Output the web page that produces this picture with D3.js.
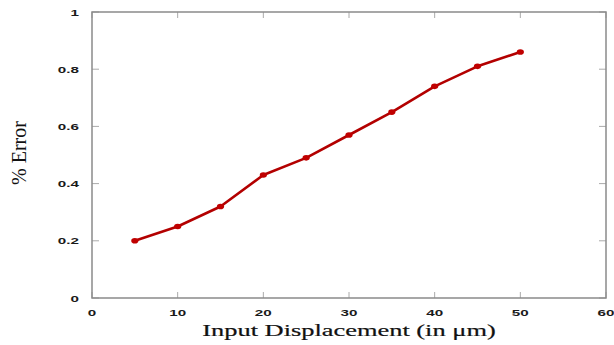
<!DOCTYPE html>
<html><head><meta charset="utf-8">
<script src="https://cdn.jsdelivr.net/npm/d3@7"></script>
<style>body{margin:0;background:#fff}</style>
</head><body>
<svg id="c" width="614" height="345"></svg>
<script>
const xValues = [5,10,15,20,25,30,35,40,45,50];
const errorValues = [0.20,0.25,0.32,0.43,0.49,0.57,0.65,0.74,0.81,0.86];
const xTicks = [0,10,20,30,40,50,60];
const yTicks = [0,0.2,0.4,0.6,0.8,1];
const xLabel = "Input Displacement (in \u03bcm)";
const yLabel = "% Error";

const svg = d3.select("#c");
const L=92,R=606,T=12,B=298;
const x = d3.scaleLinear().domain([0,60]).range([L,R]);
const y = d3.scaleLinear().domain([0,1]).range([B,T]);
function stretchText(sel, factor){
  sel.each(function(){
    const w=this.getComputedTextLength();
    d3.select(this).attr("textLength",w*factor).attr("lengthAdjust","spacingAndGlyphs");
  });
}
const tickCol="#aaa";
const g=svg.append("g");
xTicks.forEach(t=>{
  g.append("line").attr("x1",x(t)).attr("x2",x(t)).attr("y1",B).attr("y2",B-6).attr("stroke",tickCol);
  g.append("line").attr("x1",x(t)).attr("x2",x(t)).attr("y1",T).attr("y2",T+6).attr("stroke",tickCol);
});
yTicks.forEach(t=>{
  g.append("line").attr("x1",L).attr("x2",L+7).attr("y1",y(t)).attr("y2",y(t)).attr("stroke",tickCol);
  g.append("line").attr("x1",R).attr("x2",R-7).attr("y1",y(t)).attr("y2",y(t)).attr("stroke",tickCol);
});
svg.append("rect").attr("x",L).attr("y",T).attr("width",R-L).attr("height",B-T)
  .attr("fill","none").attr("stroke","#8a8a8a").attr("stroke-width",1.5);

const fnt="'Liberation Sans', Arial, sans-serif";
svg.append("g").selectAll("text").data(xTicks).join("text")
  .attr("x",d=>x(d)).attr("y",316).attr("text-anchor","middle")
  .attr("font-family",fnt).attr("font-weight","bold").attr("font-size",9.5).attr("fill","#1a1a1a")
  .text(d=>d3.format("~g")(d)).call(stretchText,1.6);
svg.append("g").selectAll("text").data(yTicks).join("text")
  .attr("x",79).attr("y",d=>y(d)+3.5).attr("text-anchor","end")
  .attr("font-family",fnt).attr("font-weight","bold").attr("font-size",9.5).attr("fill","#1a1a1a")
  .text(d=>d3.format("~g")(d)).call(stretchText,1.6);

svg.append("text").attr("x",(L+R)/2).attr("y",336).attr("text-anchor","middle")
  .attr("font-family","'Liberation Serif','Times New Roman',serif").attr("font-size",16.5).attr("fill","#111")
  .attr("stroke","#111").attr("stroke-width",0.2)
  .text(xLabel).call(stretchText,1.6);
svg.append("text").attr("transform",`translate(26,153) rotate(-90)`).attr("text-anchor","middle")
  .attr("font-family","'Liberation Serif','Times New Roman',serif").attr("font-size",20).attr("fill","#111")
  .text(yLabel);

const pts = xValues.map((v,i)=>[v,errorValues[i]]);
svg.append("path").datum(pts)
  .attr("d",d3.line().x(d=>x(d[0])).y(d=>y(d[1])))
  .attr("fill","none").attr("stroke","#b30000").attr("stroke-width",2.6).attr("stroke-linejoin","round");
svg.append("g").selectAll("ellipse").data(pts).join("ellipse")
  .attr("cx",d=>x(d[0])).attr("cy",d=>y(d[1])).attr("rx",3.6).attr("ry",2.8).attr("fill","#c00000");
</script>
</body></html>
